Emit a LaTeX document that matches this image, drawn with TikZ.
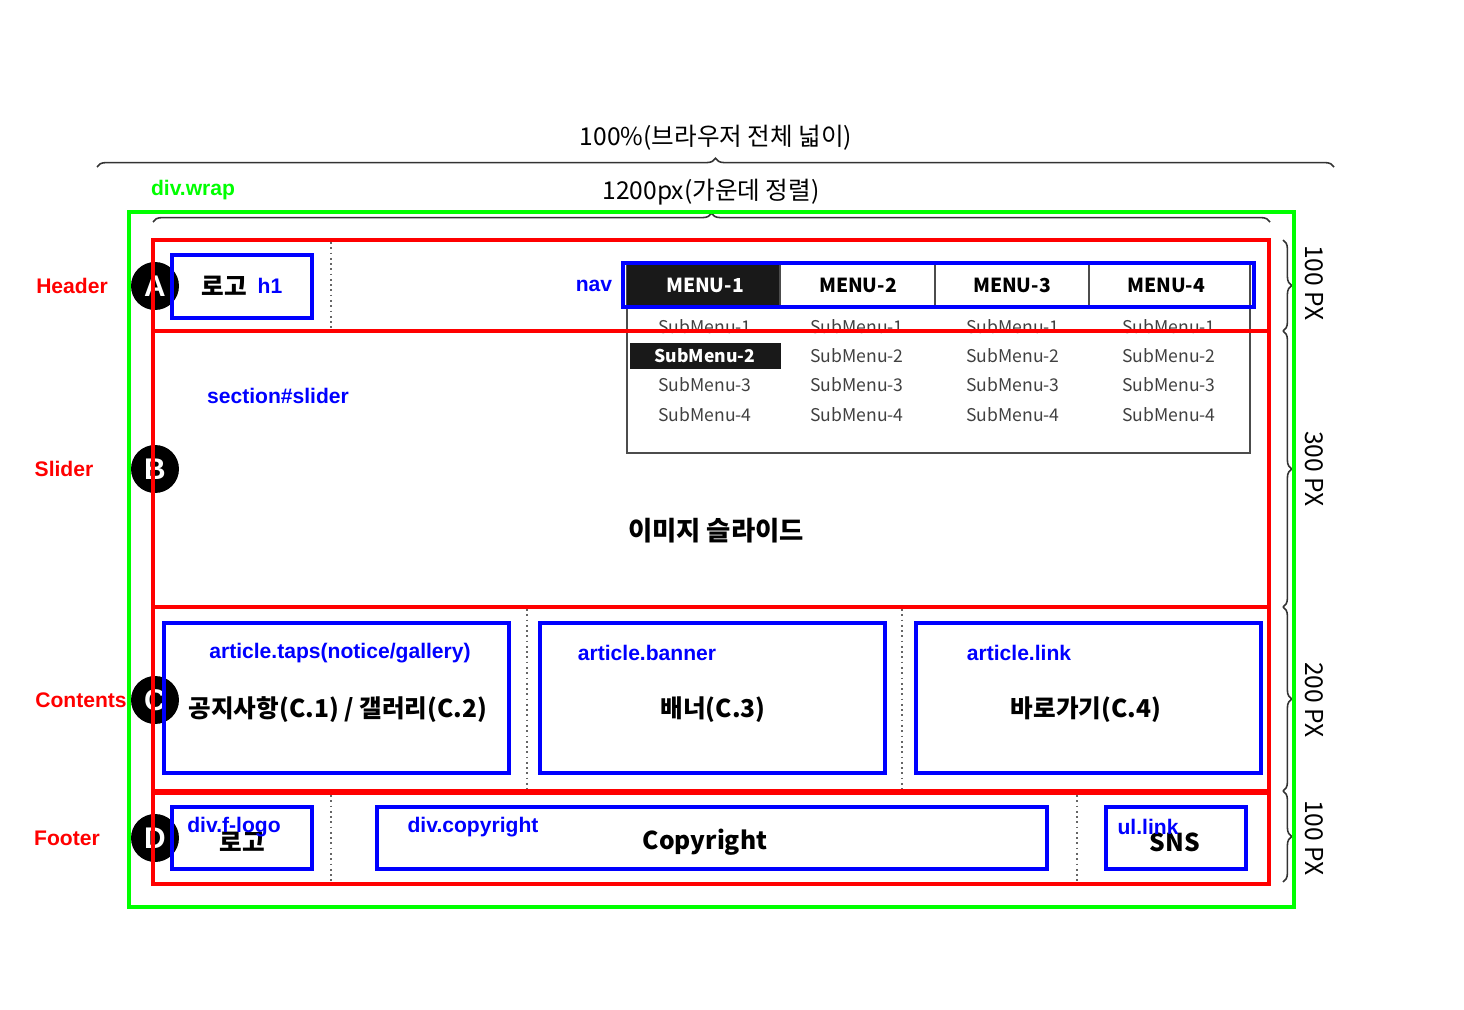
\documentclass[tikz,border=0pt]{standalone}
\usepackage{fontspec}
\setmainfont{Noto Sans CJK KR}
\newfontfamily\lblfont{Liberation Sans}
\usepackage{tikz}
\usetikzlibrary{decorations.pathreplacing}
\usepackage{xcolor}

\tikzset{
  wrapbox/.style={draw=green, line width=2.3pt},
  areabox/.style={draw=red, line width=2.3pt},
  tagbox/.style={draw=blue, line width=2.3pt},
  arealbl/.style={text=red, font=\lblfont\bfseries\fontsize{12}{14}\selectfont},
  taglbl/.style={text=blue, font=\lblfont\bfseries\fontsize{12}{14}\selectfont},
  wraplbl/.style={text=green, font=\lblfont\bfseries\fontsize{12}{14}\selectfont},
  kortxt/.style={font=\bfseries\fontsize{14}{16}\selectfont},
  badge/.style={circle, fill=black, inner sep=0pt, minimum size=0.96cm, text=white, font=\lblfont\bfseries\fontsize{17}{19}\selectfont},
  menutxt/.style={font=\bfseries\fontsize{11}{13}\selectfont},
  subtxt/.style={text=black!75, font=\fontsize{10}{12}\selectfont},
  sizebrace/.style={draw=black!80, line width=0.9pt, decorate, decoration={brace, amplitude=5pt}},
  sizetxt/.style={font=\fontsize{14}{16}\selectfont},
  divider/.style={draw=black!60, dotted, line width=1pt}
}

\begin{document}
\begin{tikzpicture}[x=0.02cm, y=-0.02cm]
        \useasboundingbox (0,0) rectangle (1464,1010);

        % Width braces on top
        \draw[sizebrace] (97,167) -- (1334,167); % browser width
        \node[sizetxt] (fullw) at (716,138) {100\%(브라우저 전체 넓이)};
        \draw[sizebrace] (153,222) -- (1270,222); % wrap width
        \node[sizetxt] (wrapw) at (711,192) {1200px(가운데 정렬)};

        % Height braces on the right
        \draw[sizebrace] (1283,240) -- (1283,331); % header
        \draw[sizebrace] (1283,331) -- (1283,607); % slider
        \draw[sizebrace] (1283,607) -- (1283,791); % contents
        \draw[sizebrace] (1283,791) -- (1283,882); % footer
        \node[sizetxt, rotate=-90] (hh) at (1314,283) {100 PX};
        \node[sizetxt, rotate=-90] (sh) at (1314,469) {300 PX};
        \node[sizetxt, rotate=-90] (ch) at (1314,700) {200 PX};
        \node[sizetxt, rotate=-90] (fh) at (1314,838) {100 PX};

        % Area badges
        \node[badge] (badgeA) at (155,286) {A};
        \node[badge] (badgeB) at (155,469) {B};
        \node[badge] (badgeC) at (155,700) {C};
        \node[badge] (badgeD) at (155,838) {D};

        % Area labels
        \node[wraplbl] (wraplabel) at (193,190) {div.wrap};
        \node[arealbl] (headerlabel) at (72,286) {Header};
        \node[arealbl] (sliderlabel) at (64,469) {Slider};
        \node[arealbl] (contentslabel) at (81,700) {Contents};
        \node[arealbl] (footerlabel) at (67,838) {Footer};

        % Dotted dividers
        \draw[divider] (331,242) -- (331,329); % header
        \draw[divider] (527,609) -- (527,789); % contents
        \draw[divider] (902,609) -- (902,789); % contents
        \draw[divider] (331,795) -- (331,882); % footer
        \draw[divider] (1077,795) -- (1077,882); % footer

        % Drop down menu
        \draw[black!70, line width=1.1pt] (627,263) rectangle (1250,453); % menu panel
        \fill[black!90] (627,265) rectangle (780,306); % active menu
        \draw[black!70, line width=1pt] (780,265) -- (780,306);
        \draw[black!70, line width=1pt] (935,265) -- (935,306);
        \draw[black!70, line width=1pt] (1089,265) -- (1089,306);
        \node[menutxt, text=white] (menu1) at (705,285) {MENU-1};
        \node[menutxt] (menu2) at (858,285) {MENU-2};
        \node[menutxt] (menu3) at (1012,285) {MENU-3};
        \node[menutxt] (menu4) at (1166,285) {MENU-4};

        % Sub menus
        \fill[black!90] (630,343) rectangle (781,369); % active sub menu
        \node[subtxt] (sub11) at (705,327) {SubMenu-1};
        \node[subtxt] (sub21) at (857,327) {SubMenu-1};
        \node[subtxt] (sub31) at (1013,327) {SubMenu-1};
        \node[subtxt] (sub41) at (1169,327) {SubMenu-1};
        \node[subtxt, text=white, font=\bfseries\fontsize{10}{12}\selectfont] (sub12) at (705,356) {SubMenu-2};
        \node[subtxt] (sub22) at (857,356) {SubMenu-2};
        \node[subtxt] (sub32) at (1013,356) {SubMenu-2};
        \node[subtxt] (sub42) at (1169,356) {SubMenu-2};
        \node[subtxt] (sub13) at (705,385) {SubMenu-3};
        \node[subtxt] (sub23) at (857,385) {SubMenu-3};
        \node[subtxt] (sub33) at (1013,385) {SubMenu-3};
        \node[subtxt] (sub43) at (1169,385) {SubMenu-3};
        \node[subtxt] (sub14) at (705,415) {SubMenu-4};
        \node[subtxt] (sub24) at (857,415) {SubMenu-4};
        \node[subtxt] (sub34) at (1013,415) {SubMenu-4};
        \node[subtxt] (sub44) at (1169,415) {SubMenu-4};

        % Outer wrap and areas
        \draw[wrapbox] (129,212) rectangle (1294,907); % div.wrap
        \draw[areabox] (153,240) rectangle (1269,331); % header
        \draw[areabox] (153,331) rectangle (1269,607); % slider
        \draw[areabox] (153,607) rectangle (1269,791); % contents
        \draw[areabox] (153,793) rectangle (1269,884); % footer

        % Header parts
        \draw[tagbox] (172,255) rectangle (312,318); % h1
        \node[kortxt] (logo) at (224,286) {로고};
        \node[taglbl] (h1label) at (270,286) {h1};
        \draw[tagbox] (623,263) rectangle (1254,307); % nav
        \node[taglbl] (navlabel) at (594,286) {nav};

        % Slider parts
        \node[taglbl] (sliderid) at (278,396) {section\#slider};
        \node[kortxt, font=\bfseries\fontsize{15}{17}\selectfont] (slidetxt) at (716,531) {이미지 슬라이드};

        % Contents parts
        \draw[tagbox] (164,623) rectangle (509,773); % taps
        \draw[tagbox] (540,623) rectangle (885,773); % banner
        \draw[tagbox] (916,623) rectangle (1261,773); % link
        \node[taglbl] (tapslabel) at (340,653) {article.taps(notice/gallery)};
        \node[taglbl] (bannerlabel) at (647,653) {article.banner};
        \node[taglbl] (linklabel) at (1019,653) {article.link};
        \node[kortxt] (tapstxt) at (338,710) {공지사항(C.1) / 갤러리(C.2)};
        \node[kortxt] (bannertxt) at (713,710) {배너(C.3)};
        \node[kortxt] (linktxt) at (1086,710) {바로가기(C.4)};

        % Footer parts
        \draw[tagbox] (172,807) rectangle (312,869); % f-logo
        \draw[tagbox] (377,807) rectangle (1047,869); % copyright
        \draw[tagbox] (1106,807) rectangle (1246,869); % sns
        \node[kortxt] (flogo) at (242,842) {로고};
        \node[kortxt] (copytxt) at (705,842) {Copyright};
        \node[kortxt] (snstxt) at (1175,842) {SNS};
        \node[taglbl] (flogolabel) at (234,827) {div.f-logo};
        \node[taglbl] (copylabel) at (473,827) {div.copyright};
        \node[taglbl] (snslabel) at (1148,827) {ul.link};
\end{tikzpicture}
\end{document}
